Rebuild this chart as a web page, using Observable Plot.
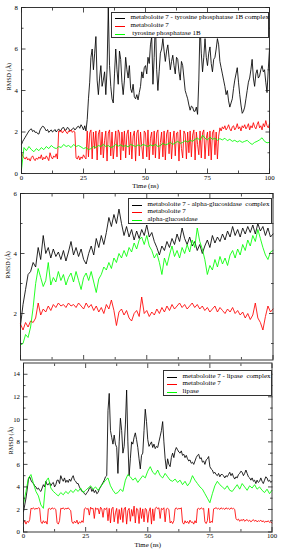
<!DOCTYPE html>
<html><head><meta charset="utf-8">
<script src="https://cdn.jsdelivr.net/npm/d3@7"></script>
<script src="https://cdn.jsdelivr.net/npm/@observablehq/plot@0.6"></script>
<style>
body{margin:0;background:#fff;}
#fig{position:relative;width:281px;height:550px;overflow:hidden;font-family:"Liberation Serif","Times New Roman",serif;background:#fff;}
#fig svg{position:absolute;left:0;}
.legend{position:absolute;background:#fff;border:1px solid #333;box-sizing:border-box;}
.entry{position:absolute;left:0;right:0;height:0;}
.sample{position:absolute;left:3px;width:10px;top:0;border-top:1px solid;}
.label{position:absolute;left:18.5px;top:0;transform:translateY(-55%);font-size:7px;white-space:pre;line-height:1;color:#000;}
</style></head><body><div id="fig"></div><script>
// ---- data (RMSD in Å over 0–100 ns, evenly sampled) ----
const timeTicks = [0, 25, 50, 75, 100];
const timeMinor = [12.5, 37.5, 62.5, 87.5];
const seriesColors = ["#000000", "#ff0000", "#00ff00"];

const p1Legend = ["metaboloite 7 - tyrosine phosphatase 1B complex", "metaboloite 7", " tyrosine phosphatase 1B"];
const p2Legend = ["metaboloite 7 - alpha-glucosidase  complex", "metaboloite 7", "alpha-glucosidase"];
const p3Legend = ["metaboloite 7 - lipase  complex", "metaboloite 7", "lipase"];

const p1YTicks = [0, 2, 4, 6, 8], p1YMinor = [1, 3, 5, 7];
const p2YTicks = [2, 4, 6], p2YMinor = [1, 3, 5];
const p3YTicks = [0, 2, 4, 6, 8, 10, 12, 14], p3YMinor = [1, 3, 5, 7, 9, 11, 13];

const p1Complex = [
1.40,1.55,1.65,1.75,1.85,1.95,2.05,2.12,2.15,2.02,
2.08,1.98,2.00,1.92,1.90,2.10,2.20,2.28,2.25,2.15,
2.05,2.12,1.98,2.05,2.10,2.00,2.05,2.12,2.00,2.08,
2.15,2.05,2.10,2.20,2.22,2.08,2.10,2.22,2.18,2.05,
2.08,2.15,2.20,2.10,2.15,2.25,2.28,2.18,2.35,2.25,
2.10,2.30,2.05,2.60,3.60,4.40,5.60,6.00,5.00,5.80,
6.60,4.50,3.80,4.60,5.20,4.20,4.50,4.90,3.80,5.00,
8.00,5.20,4.20,3.60,3.40,4.80,6.00,5.00,4.30,5.90,
5.50,4.40,3.80,4.50,5.60,5.00,4.60,5.20,4.10,3.90,
4.30,3.70,3.60,3.80,3.55,3.90,4.20,4.90,4.60,5.10,
5.20,4.80,5.60,5.30,6.20,6.60,4.30,5.60,7.40,5.00,
4.00,4.90,5.80,6.00,6.50,5.90,5.40,5.90,6.20,5.60,
5.00,5.40,5.70,5.20,4.80,5.60,5.50,4.90,4.50,5.40,
5.20,4.60,4.00,3.80,3.60,3.30,3.05,3.25,3.20,3.00,
3.00,3.20,2.85,4.50,7.20,5.80,4.90,5.60,6.50,5.60,
5.20,5.80,6.10,5.30,4.90,5.50,5.60,6.00,6.50,6.20,
5.40,5.10,4.80,4.50,4.20,3.80,4.00,3.50,3.20,3.40,
3.60,4.10,4.50,4.80,5.10,4.40,3.80,3.30,2.90,3.00,
3.20,3.60,4.00,4.40,4.60,5.00,5.50,4.60,4.20,4.80,
5.00,4.60,4.70,5.00,5.20,4.90,5.00,4.40,3.90,5.00,
6.00];
const p1Ligand = [
1.00,0.85,0.75,0.70,0.80,0.65,0.72,0.60,0.78,0.85,
0.70,0.62,0.75,0.68,0.80,0.72,0.90,0.65,0.78,0.70,
0.85,0.75,0.62,1.00,0.80,0.70,0.85,0.78,0.95,0.70,
2.05,2.00,2.08,1.95,2.05,2.10,2.00,1.92,2.05,2.02,
2.10,1.98,2.05,2.00,0.75,0.70,0.85,0.65,0.80,0.72,
0.90,0.78,0.70,2.05,0.80,1.95,2.10,0.70,2.00,1.20,
2.05,0.65,1.90,2.10,0.90,2.00,0.75,1.60,2.05,0.60,
1.95,2.10,0.85,2.00,0.70,1.40,2.05,0.80,2.10,1.95,
0.65,2.00,1.10,2.05,0.75,1.90,2.10,0.90,2.00,0.70,
1.80,2.05,0.60,1.95,2.10,0.85,2.00,1.30,0.70,2.05,
1.95,0.80,2.10,0.65,1.70,2.00,0.90,2.05,0.75,1.95,
2.10,0.70,1.50,2.00,0.80,2.05,0.65,1.90,2.10,0.95,
2.00,0.70,1.60,2.05,0.85,1.95,2.00,0.60,2.10,1.20,
0.75,2.05,1.90,0.70,2.00,1.00,2.05,0.80,1.85,2.10,
0.65,2.00,1.40,0.90,2.05,0.75,1.95,2.10,0.70,1.70,
2.00,0.85,2.05,0.65,1.95,2.10,0.90,2.00,0.70,1.80,
2.20,2.05,2.25,2.15,2.30,2.10,2.20,2.35,2.15,2.05,
2.25,2.30,2.10,2.20,2.40,2.15,2.25,2.05,2.30,2.20,
2.35,2.15,2.25,2.40,2.10,2.30,2.20,2.45,2.25,2.15,
2.35,2.50,2.20,2.30,2.10,2.40,2.25,2.55,2.30,2.20,
2.40];
const p1Protein = [
0.20,1.25,1.10,1.30,1.15,1.05,1.20,1.10,1.25,1.15,
1.30,1.20,1.35,1.25,1.20,1.30,1.25,1.40,1.30,1.35,
1.25,1.40,1.30,1.35,1.28,1.20,1.25,1.15,1.20,1.30,
1.25,1.35,1.30,1.40,1.30,1.35,1.25,1.30,1.40,1.32,
1.38,1.30,1.35,1.28,1.40,1.35,1.30,1.38,1.32,1.40,
1.35,1.30,1.38,1.33,1.40,1.30,1.35,1.45,1.38,1.42,
1.50,1.40,1.48,1.55,1.45,1.50,1.58,1.52,1.60,1.55,
1.65,1.70,1.60,1.85,1.70,1.62,1.75,1.65,1.70,1.60,
1.68,1.62,1.70,1.58,1.65,1.55,1.60,1.52,1.58,1.50,
1.55,1.60,1.48,1.40,1.50,1.55,1.62,1.72,1.55,1.48,
1.50];

const p2Complex = [
1.60,2.30,2.80,3.30,3.40,3.70,3.55,4.20,3.80,4.60,
4.00,4.20,3.85,4.15,3.90,4.05,3.80,4.10,3.75,4.05,
4.40,3.95,4.20,3.90,4.15,3.80,3.65,4.00,4.25,3.95,
4.50,4.20,4.60,4.30,4.70,5.20,4.90,5.30,5.00,5.48,
5.00,4.60,4.90,4.55,4.80,4.45,4.75,4.50,4.80,4.60,
4.95,4.55,4.70,4.40,4.20,3.95,4.25,4.10,4.40,4.20,
4.50,4.30,4.65,4.40,4.85,4.50,4.30,4.55,4.25,4.40,
4.10,4.30,4.00,4.25,4.45,4.20,4.60,4.35,4.55,4.40,
4.65,4.45,4.75,4.55,4.90,4.60,4.80,4.55,4.85,4.65,
4.90,4.70,4.95,4.65,5.00,4.75,4.90,4.60,4.85,4.55,
4.65];
const p2Ligand = [
1.65,1.45,1.70,1.55,1.75,1.70,1.85,2.35,1.95,2.15,
2.05,2.25,2.10,2.30,2.20,2.35,2.25,2.30,2.20,2.35,
2.25,2.30,2.20,2.35,2.25,2.15,2.35,2.20,2.30,2.10,
2.25,2.05,2.20,2.00,2.30,2.15,2.45,2.10,1.60,2.05,
2.15,1.95,2.10,1.85,1.75,2.00,2.10,1.90,2.55,2.00,
2.10,1.90,2.05,1.95,2.15,2.00,2.20,2.05,2.25,2.10,
2.30,2.15,2.25,2.35,2.20,2.30,2.15,2.25,2.35,2.20,
2.30,2.15,2.25,2.10,2.20,2.05,2.15,2.25,2.05,2.20,
2.10,2.00,2.15,2.05,2.20,2.00,2.10,1.95,2.05,1.85,
2.00,1.80,1.95,2.35,1.85,1.70,1.45,1.90,2.25,2.05,
2.15];
const p2Protein = [
0.95,1.00,1.30,1.20,1.55,2.20,3.00,3.50,3.20,2.90,
3.10,3.70,2.95,3.20,3.05,3.40,3.10,3.30,2.95,3.20,
3.35,3.05,3.40,3.10,2.80,3.20,3.35,3.10,3.40,3.05,
2.70,3.15,3.30,3.55,3.45,3.70,3.50,3.85,3.70,4.00,
3.85,4.10,3.90,4.20,4.05,4.35,4.15,4.45,4.55,4.30,
4.60,4.25,4.10,3.85,4.00,3.70,3.30,3.85,3.60,3.95,
4.25,3.90,4.10,3.85,4.20,4.00,4.30,4.05,4.45,4.20,
4.85,4.40,4.15,3.80,3.30,3.60,3.45,3.80,3.55,3.90,
3.65,3.85,3.60,3.95,4.10,3.85,4.15,3.95,4.30,4.10,
4.45,4.25,4.60,4.40,4.80,4.50,4.20,3.95,3.80,4.05,
4.10];

const p3Complex = [
1.80,2.40,3.00,3.80,4.70,4.90,4.60,4.40,4.30,4.10,
4.00,3.80,3.90,3.70,3.60,3.90,4.20,4.00,4.50,4.20,
4.20,4.40,4.10,4.30,4.40,4.00,4.20,4.60,4.60,4.30,
5.00,4.70,4.50,4.80,4.40,4.60,4.40,4.70,4.50,4.80,
5.00,4.60,4.50,4.30,4.30,4.00,3.80,3.60,3.60,3.40,
3.30,3.50,3.60,3.90,4.00,3.60,3.80,3.50,3.70,3.40,
3.50,3.80,4.00,4.20,4.40,4.60,4.90,5.00,10.80,12.30,
9.00,8.40,7.80,8.60,7.80,7.50,5.20,8.00,10.10,9.00,
7.00,7.60,9.50,12.60,8.00,5.00,6.50,8.00,7.80,8.40,
8.80,8.20,7.50,6.50,5.60,6.80,7.00,9.00,10.90,9.80,
8.20,7.60,7.80,8.00,7.50,7.80,7.40,7.60,7.50,8.00,
8.50,9.00,9.80,8.00,6.50,5.60,6.50,6.00,5.80,6.60,
7.00,6.60,7.20,7.50,7.30,7.10,7.00,7.20,6.80,6.90,
6.60,6.80,6.50,6.30,6.40,6.10,6.20,6.00,6.30,6.60,
6.80,6.90,6.50,6.60,6.20,6.30,6.00,6.40,6.50,6.70,
5.80,5.60,5.50,5.20,5.30,5.10,5.00,5.20,4.90,5.10,
5.10,5.00,4.80,5.00,4.90,5.10,5.30,5.00,5.20,4.90,
4.70,4.90,4.80,5.10,5.20,5.40,5.30,5.00,5.20,5.50,
5.20,4.90,4.80,4.60,4.80,4.50,4.60,4.30,4.60,4.40,
4.50,4.80,4.50,4.30,4.60,4.90,4.80,4.50,4.60,4.40,
4.50];
const p3Ligand = [
0.80,1.00,0.70,0.95,0.85,1.10,2.10,2.05,2.15,2.00,
2.10,2.05,2.15,2.10,0.90,0.75,1.00,0.80,0.95,0.70,
2.05,2.10,2.00,2.15,2.05,2.10,2.00,0.85,0.70,1.00,
2.10,2.05,2.15,2.00,2.10,2.05,2.15,2.00,1.90,0.90,
0.75,0.95,0.80,1.05,0.70,0.90,0.80,1.00,0.85,2.05,
2.15,2.00,2.10,1.50,2.20,2.05,2.10,1.20,2.15,2.00,
2.10,1.60,2.20,2.05,1.30,2.10,2.00,2.15,1.00,2.10,
0.80,2.05,2.20,0.90,1.70,2.10,0.75,2.00,1.10,2.15,
0.85,2.05,2.20,0.70,1.90,2.10,0.95,2.00,1.40,2.30,
0.80,2.10,2.00,0.75,2.15,1.20,2.05,0.90,2.10,2.00,
0.85,1.80,2.15,0.70,2.05,1.00,2.10,2.20,2.05,2.15,
1.20,2.10,2.00,2.15,0.90,2.05,2.10,2.00,0.80,0.95,
0.75,1.00,2.05,2.15,2.00,2.10,2.05,2.15,0.85,0.70,
1.00,0.80,0.95,0.75,1.05,0.85,0.90,0.70,1.00,0.80,
2.05,2.10,2.00,2.15,2.05,2.10,0.90,0.75,1.00,2.10,
0.80,0.95,0.85,2.05,2.10,2.15,2.05,2.10,2.00,2.15,
2.05,2.10,2.00,2.15,2.05,2.10,2.00,2.15,2.05,2.10,
2.00,1.20,1.05,1.15,0.95,1.10,1.00,1.15,0.95,1.05,
1.10,0.95,1.05,0.90,1.00,1.10,0.95,1.05,0.90,1.00,
0.95,1.05,0.90,1.00,0.85,0.95,0.90,1.00,0.85,0.90,
0.80];
const p3Protein = [
2.50,3.60,4.80,5.10,4.30,3.60,3.20,2.40,2.10,4.50,
4.80,3.90,3.60,3.40,3.20,3.50,3.30,3.60,3.40,3.70,
3.50,3.80,3.60,3.90,3.50,3.70,3.90,4.10,3.80,4.00,
3.70,4.00,4.30,4.60,4.80,4.10,3.70,3.40,3.50,3.80,
3.60,4.60,5.10,4.90,4.60,4.80,4.40,4.70,5.00,4.80,
5.40,5.80,5.30,5.10,5.50,5.00,4.80,5.20,4.90,4.60,
4.50,4.70,4.40,4.60,4.20,4.50,4.10,4.40,5.00,4.60,
4.30,4.00,3.80,3.40,3.00,2.60,3.40,4.10,4.50,4.20,
4.00,3.80,4.10,3.70,3.60,3.90,4.20,3.80,4.30,4.00,
3.70,4.10,3.90,4.20,3.80,4.00,3.70,3.50,3.80,3.40,
3.70];

// ---- drawing ----
const FONT = "Liberation Serif, Times New Roman, serif";
function rows(values) {
  const n = values.length;
  return values.map((v, i) => ({t: i * 100 / (n - 1), v}));
}

function panel(cfg) {
  const {top, height, mt, mr, mb, ml, yDomain, yTicks, yMinor, xLabels, labelDy, series} = cfg;
  const none = () => "";
  const common = {label: null, fontSize: 6.8, fontFamily: FONT, stroke: "#222", strokeWidth: 0.8};
  const marks = [];
  series.forEach((vals, k) => marks.push(Plot.line(rows(vals), {x: "t", y: "v", stroke: seriesColors[k], strokeWidth: 0.85})));
  marks.push(Plot.frame({stroke: "#222", strokeWidth: 0.9}));
  marks.push(Plot.axisX(timeTicks, {...common, anchor: "bottom", tickSize: -4.5, tickPadding: 6, tickFormat: xLabels ? (d => String(d)) : none}));
  marks.push(Plot.axisX(timeMinor, {...common, anchor: "bottom", tickSize: -2.5, tickFormat: none}));
  marks.push(Plot.axisX(timeTicks, {...common, anchor: "top", tickSize: -4.5, tickFormat: none}));
  marks.push(Plot.axisX(timeMinor, {...common, anchor: "top", tickSize: -2.5, tickFormat: none}));
  marks.push(Plot.axisY(yTicks, {...common, anchor: "left", tickSize: -4.5, tickPadding: 8, tickFormat: d => String(d)}));
  marks.push(Plot.axisY(yMinor, {...common, anchor: "left", tickSize: -2.5, tickFormat: none}));
  marks.push(Plot.axisY(yTicks, {...common, anchor: "right", tickSize: -4.5, tickFormat: none}));
  marks.push(Plot.axisY(yMinor, {...common, anchor: "right", tickSize: -2.5, tickFormat: none}));
  marks.push(Plot.text(["RMSD (Å)"], {frameAnchor: "left", dx: -12, dy: labelDy, rotate: -90, fontSize: 6.2, fontFamily: FONT, fill: "#000"}));
  if (xLabels) marks.push(Plot.text(["Time (ns)"], {frameAnchor: "bottom", dy: 14.5, fontSize: 6.8, fontFamily: FONT, fill: "#000"}));
  const svg = Plot.plot({
    width: 281, height,
    marginTop: mt, marginRight: mr, marginBottom: mb, marginLeft: ml,
    x: {domain: [0, 100]},
    y: {domain: yDomain},
    style: {background: "transparent", fontFamily: FONT, overflow: "visible", color: "#000"},
    marks
  });
  svg.style.top = top + "px";
  return svg;
}

function legend(names, box) {
  const div = document.createElement("div");
  div.className = "legend";
  Object.assign(div.style, {left: box.left + "px", top: box.top + "px", width: box.width + "px", height: box.height + "px"});
  names.forEach((name, k) => {
    const e = document.createElement("div");
    e.className = "entry";
    e.style.top = (box.first + k * box.step) + "px";
    const s = document.createElement("div");
    s.className = "sample";
    s.style.borderTopColor = seriesColors[k];
    const l = document.createElement("div");
    l.className = "label";
    l.textContent = name;
    e.appendChild(s); e.appendChild(l);
    div.appendChild(e);
  });
  return div;
}

const fig = document.getElementById("fig");
fig.appendChild(panel({top: 0, height: 192, mt: 7, mr: 12, mb: 19, ml: 21, yDomain: [0, 8], yTicks: p1YTicks, yMinor: p1YMinor, xLabels: true, labelDy: 0, series: [p1Complex, p1Ligand, p1Protein]}));
fig.appendChild(panel({top: 186, height: 176, mt: 7, mr: 8.5, mb: 2.5, ml: 20, yDomain: [0.45, 6], yTicks: p2YTicks, yMinor: p2YMinor, xLabels: false, labelDy: 2, series: [p2Complex, p2Ligand, p2Protein]}));
fig.appendChild(panel({top: 356, height: 194, mt: 6.5, mr: 9.5, mb: 18.5, ml: 23, yDomain: [0, 15], yTicks: p3YTicks, yMinor: p3YMinor, xLabels: true, labelDy: 7, series: [p3Complex, p3Ligand, p3Protein]}));
fig.appendChild(legend(p1Legend, {left: 111, top: 12, width: 158, height: 26, first: 4.5, step: 8.3}));
fig.appendChild(legend(p2Legend, {left: 128, top: 198, width: 144, height: 26, first: 6, step: 7.4}));
fig.appendChild(legend(p3Legend, {left: 163, top: 369.5, width: 108.5, height: 26, first: 6, step: 7.6}));
</script></body></html>
